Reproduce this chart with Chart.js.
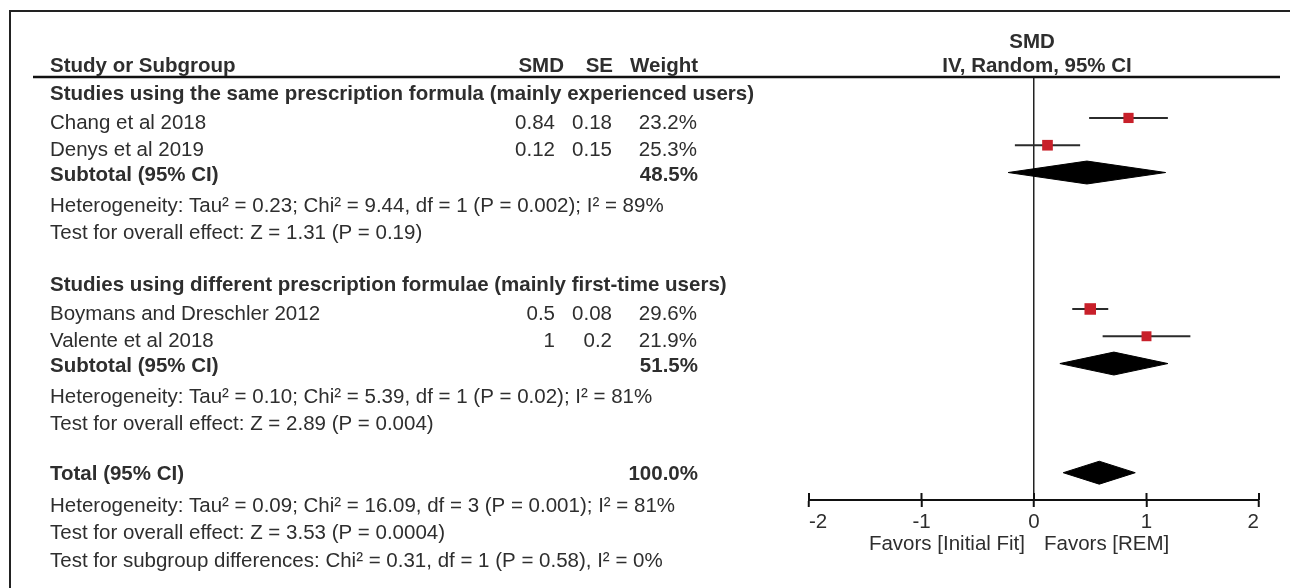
<!DOCTYPE html>
<html>
<head>
<meta charset="utf-8">
<script src="https://cdn.jsdelivr.net/npm/chart.js@4/dist/chart.umd.min.js"></script>
<style>
  html, body { margin: 0; padding: 0; background: #fff; }
  #wrap { position: relative; width: 1290px; height: 588px; }
</style>
</head>
<body>
<div id="wrap"><canvas id="forest-chart"></canvas></div>
<script>
// Individual studies
const studyNames = ['Chang et al 2018', 'Denys et al 2019', 'Boymans and Dreschler 2012', 'Valente et al 2018'];
const studyRows = [2, 3, 9, 10];
const studySmd = [0.84, 0.12, 0.5, 1];
const studySmdText = ['0.84', '0.12', '0.5', '1'];
const studySeText = ['0.18', '0.15', '0.08', '0.2'];
const studyWeight = [23.2, 25.3, 29.6, 21.9];
const studyCiLow = [0.49, -0.17, 0.34, 0.61];
const studyCiHigh = [1.19, 0.41, 0.66, 1.39];

// Pooled estimates (subtotals + total)
const pooledNames = ['Subtotal (95% CI)', 'Subtotal (95% CI)', 'Total (95% CI)'];
const pooledRows = [4, 11, 15];
const pooledWeightText = ['48.5%', '51.5%', '100.0%'];
const pooledEst = [0.47, 0.71, 0.58];
const pooledLow = [-0.23, 0.23, 0.26];
const pooledHigh = [1.17, 1.19, 0.90];

// Subgroup titles and notes
const groupTitles = [
    'Studies using the same prescription formula (mainly experienced users)',
    'Studies using different prescription formulae (mainly first-time users)'
];
const groupRows = [1, 8];
const noteLines = [
    'Heterogeneity: Tau² = 0.23; Chi² = 9.44, df = 1 (P = 0.002); I² = 89%',
    'Test for overall effect: Z = 1.31 (P = 0.19)',
    'Heterogeneity: Tau² = 0.10; Chi² = 5.39, df = 1 (P = 0.02); I² = 81%',
    'Test for overall effect: Z = 2.89 (P = 0.004)',
    'Heterogeneity: Tau² = 0.09; Chi² = 16.09, df = 3 (P = 0.001); I² = 81%',
    'Test for overall effect: Z = 3.53 (P = 0.0004)',
    'Test for subgroup differences: Chi² = 0.31, df = 1 (P = 0.58), I² = 0%'
];
const noteRows = [5, 6, 12, 13, 16, 17, 18];

const xTicks = [-2, -1, 0, 1, 2];
const favorsLeft = 'Favors [Initial Fit]';
const favorsRight = 'Favors [REM]';

// Styles
const TEXT = '#2e2e2e';
const FONT = '"Liberation Sans", Arial, Helvetica, sans-serif';
const RED = '#c8202a';
const DIAMOND_HALF = 0.42; // in row units

const font = (bold) => `${bold ? 'bold ' : ''}20.5px ${FONT}`;

// Table text, header, frame and the upper half of the axis ticks
const tablePlugin = {
    id: 'forestTable',
    afterDraw(chart) {
        const c = chart.ctx;
        const y = chart.scales.y;
        const x = chart.scales.x;
        const rowY = (r) => y.getPixelForValue(r);
        const put = (txt, px, py, align, bold) => {
            c.font = font(bold);
            c.textAlign = align;
            c.textBaseline = 'alphabetic';
            c.fillStyle = TEXT;
            c.fillText(txt, px, py);
        };

        c.save();

        // frame
        c.strokeStyle = '#222';
        c.lineWidth = 2;
        c.beginPath();
        c.moveTo(10, 588);
        c.lineTo(10, 11);
        c.lineTo(1290, 11);
        c.stroke();

        // header rule
        c.strokeStyle = '#111';
        c.lineWidth = 2.5;
        c.beginPath();
        c.moveTo(33, 77);
        c.lineTo(1280, 77);
        c.stroke();

        // column headers
        put('Study or Subgroup', 50, 72, 'left', true);
        put('SMD', 564, 72, 'right', true);
        put('SE', 613, 72, 'right', true);
        put('Weight', 698, 72, 'right', true);
        const zeroX = x.getPixelForValue(0);
        put('SMD', zeroX - 2, 48, 'center', true);
        put('IV, Random, 95% CI', zeroX + 3, 72, 'center', true);

        groupTitles.forEach((t, i) => put(t, 50, rowY(groupRows[i]) + 9, 'left', true));

        studyNames.forEach((name, i) => {
            const by = rowY(studyRows[i]) + 11;
            put(name, 50, by, 'left', false);
            put(studySmdText[i], 555, by, 'right', false);
            put(studySeText[i], 612, by, 'right', false);
            put(studyWeight[i].toFixed(1) + '%', 697, by, 'right', false);
        });

        pooledNames.forEach((name, i) => {
            const by = rowY(pooledRows[i]) + (i < 2 ? 8 : 7);
            put(name, 50, by, 'left', true);
            put(pooledWeightText[i], 698, by, 'right', true);
        });

        noteLines.forEach((t, i) => put(t, 50, rowY(noteRows[i]) + 12, 'left', false));

        // upper stubs of the axis ticks
        c.strokeStyle = '#111';
        c.lineWidth = 2;
        xTicks.forEach(v => {
            const px = x.getPixelForValue(v);
            c.beginPath();
            c.moveTo(px, x.top - 7);
            c.lineTo(px, x.top);
            c.stroke();
        });

        // favours labels
        put(favorsLeft, zeroX - 9, 550, 'right', false);
        put(favorsRight, zeroX + 10, 550, 'left', false);

        c.restore();
    }
};

const ciDatasets = studyNames.map((_, i) => ({
    data: [{x: studyCiLow[i], y: studyRows[i]}, {x: studyCiHigh[i], y: studyRows[i]}],
    showLine: true,
    borderColor: '#2b2b2b',
    borderWidth: 2,
    pointRadius: 0,
    order: 2
}));

const diamondDatasets = pooledNames.map((_, i) => ({
    data: [
        {x: pooledLow[i], y: pooledRows[i]},
        {x: pooledEst[i], y: pooledRows[i] - DIAMOND_HALF},
        {x: pooledHigh[i], y: pooledRows[i]},
        {x: pooledEst[i], y: pooledRows[i] + DIAMOND_HALF},
        {x: pooledLow[i], y: pooledRows[i]}
    ],
    showLine: true,
    fill: 'shape',
    borderColor: '#000',
    borderWidth: 1,
    backgroundColor: '#000',
    pointRadius: 0,
    tension: 0,
    order: 2
}));

const squareDataset = {
    data: studyNames.map((_, i) => ({x: studySmd[i], y: studyRows[i]})),
    pointStyle: 'rect',
    pointRadius: (ctx) => 1.5 * Math.sqrt(studyWeight[ctx.dataIndex]),
    backgroundColor: RED,
    borderWidth: 0,
    order: 1
};

new Chart(document.getElementById('forest-chart'), {
    type: 'scatter',
    data: { datasets: [squareDataset, ...ciDatasets, ...diamondDatasets] },
    options: {
        responsive: true,
        maintainAspectRatio: false,
        animation: false,
        layout: { padding: { left: 809, right: 31, top: 77, bottom: 0 } },
        plugins: {
            legend: { display: false },
            tooltip: { enabled: false }
        },
        scales: {
            x: {
                type: 'linear',
                min: -2,
                max: 2,
                afterBuildTicks: (scale) => { scale.ticks = xTicks.map(v => ({ value: v })); },
                afterFit: (scale) => { scale.height = 88; },
                border: { display: true, color: '#111', width: 2 },
                grid: {
                    drawOnChartArea: true,
                    color: (ctx) => (ctx.tick && ctx.tick.value === 0) ? '#222' : 'rgba(0,0,0,0)',
                    lineWidth: 1.5,
                    tickColor: '#111',
                    tickWidth: 2,
                    tickLength: 7
                },
                ticks: {
                    align: 'inner',
                    maxRotation: 0,
                    autoSkip: false,
                    padding: 3,
                    color: TEXT,
                    font: { family: FONT, size: 20.5 }
                }
            },
            y: {
                type: 'linear',
                reverse: true,
                min: 0.5,
                max: 16,
                display: false
            }
        }
    },
    plugins: [tablePlugin]
});
</script>
</body>
</html>
